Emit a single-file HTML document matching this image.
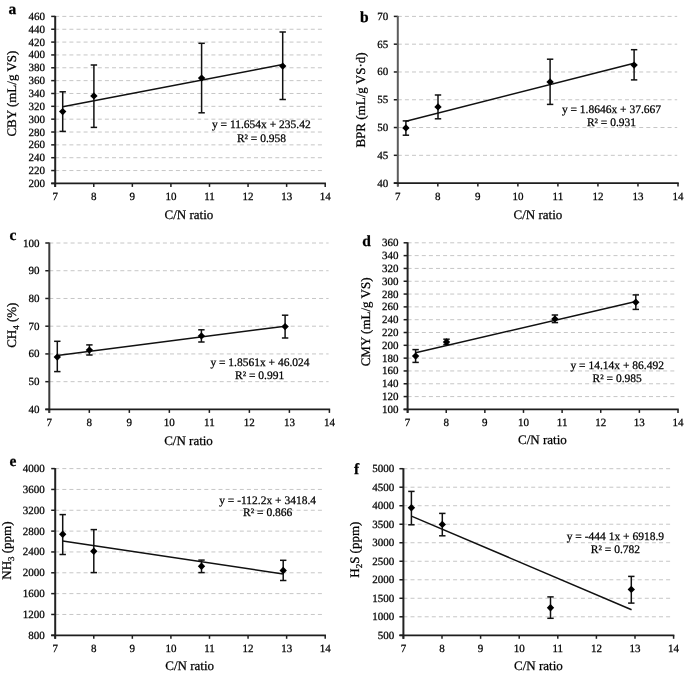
<!DOCTYPE html><html><head><meta charset="utf-8"><style>html,body{margin:0;padding:0;background:#fff;}svg{display:block;filter:blur(0.3px);}text{font-family:"Liberation Serif",serif;fill:#000;stroke:#000;stroke-width:0.25px;text-rendering:geometricPrecision;}</style></head><body>
<svg width="685" height="675" viewBox="0 0 685 675">
<rect x="0" y="0" width="685" height="675" fill="#fff"/>
<g><line x1="55.2" y1="170.55" x2="324.4" y2="170.55" stroke="#c6c6c6" stroke-width="1" stroke-dasharray="4 3.1"/><line x1="55.2" y1="157.71" x2="324.4" y2="157.71" stroke="#c6c6c6" stroke-width="1" stroke-dasharray="4 3.1"/><line x1="55.2" y1="144.86" x2="324.4" y2="144.86" stroke="#c6c6c6" stroke-width="1" stroke-dasharray="4 3.1"/><line x1="55.2" y1="132.02" x2="324.4" y2="132.02" stroke="#c6c6c6" stroke-width="1" stroke-dasharray="4 3.1"/><line x1="55.2" y1="119.17" x2="324.4" y2="119.17" stroke="#c6c6c6" stroke-width="1" stroke-dasharray="4 3.1"/><line x1="55.2" y1="106.32" x2="324.4" y2="106.32" stroke="#c6c6c6" stroke-width="1" stroke-dasharray="4 3.1"/><line x1="55.2" y1="93.48" x2="324.4" y2="93.48" stroke="#c6c6c6" stroke-width="1" stroke-dasharray="4 3.1"/><line x1="55.2" y1="80.63" x2="324.4" y2="80.63" stroke="#c6c6c6" stroke-width="1" stroke-dasharray="4 3.1"/><line x1="55.2" y1="67.78" x2="324.4" y2="67.78" stroke="#c6c6c6" stroke-width="1" stroke-dasharray="4 3.1"/><line x1="55.2" y1="54.94" x2="324.4" y2="54.94" stroke="#c6c6c6" stroke-width="1" stroke-dasharray="4 3.1"/><line x1="55.2" y1="42.09" x2="324.4" y2="42.09" stroke="#c6c6c6" stroke-width="1" stroke-dasharray="4 3.1"/><line x1="55.2" y1="29.25" x2="324.4" y2="29.25" stroke="#c6c6c6" stroke-width="1" stroke-dasharray="4 3.1"/><line x1="55.2" y1="16.4" x2="324.4" y2="16.4" stroke="#c6c6c6" stroke-width="1" stroke-dasharray="4 3.1"/><line x1="51.2" y1="183.4" x2="55.2" y2="183.4" stroke="#1e1e1e" stroke-width="1.5"/><text x="45" y="186.9" font-size="11" text-anchor="end">200</text><line x1="51.2" y1="170.55" x2="55.2" y2="170.55" stroke="#1e1e1e" stroke-width="1.5"/><text x="45" y="174.05" font-size="11" text-anchor="end">220</text><line x1="51.2" y1="157.71" x2="55.2" y2="157.71" stroke="#1e1e1e" stroke-width="1.5"/><text x="45" y="161.21" font-size="11" text-anchor="end">240</text><line x1="51.2" y1="144.86" x2="55.2" y2="144.86" stroke="#1e1e1e" stroke-width="1.5"/><text x="45" y="148.36" font-size="11" text-anchor="end">260</text><line x1="51.2" y1="132.02" x2="55.2" y2="132.02" stroke="#1e1e1e" stroke-width="1.5"/><text x="45" y="135.52" font-size="11" text-anchor="end">280</text><line x1="51.2" y1="119.17" x2="55.2" y2="119.17" stroke="#1e1e1e" stroke-width="1.5"/><text x="45" y="122.67" font-size="11" text-anchor="end">300</text><line x1="51.2" y1="106.32" x2="55.2" y2="106.32" stroke="#1e1e1e" stroke-width="1.5"/><text x="45" y="109.82" font-size="11" text-anchor="end">320</text><line x1="51.2" y1="93.48" x2="55.2" y2="93.48" stroke="#1e1e1e" stroke-width="1.5"/><text x="45" y="96.98" font-size="11" text-anchor="end">340</text><line x1="51.2" y1="80.63" x2="55.2" y2="80.63" stroke="#1e1e1e" stroke-width="1.5"/><text x="45" y="84.13" font-size="11" text-anchor="end">360</text><line x1="51.2" y1="67.78" x2="55.2" y2="67.78" stroke="#1e1e1e" stroke-width="1.5"/><text x="45" y="71.28" font-size="11" text-anchor="end">380</text><line x1="51.2" y1="54.94" x2="55.2" y2="54.94" stroke="#1e1e1e" stroke-width="1.5"/><text x="45" y="58.44" font-size="11" text-anchor="end">400</text><line x1="51.2" y1="42.09" x2="55.2" y2="42.09" stroke="#1e1e1e" stroke-width="1.5"/><text x="45" y="45.59" font-size="11" text-anchor="end">420</text><line x1="51.2" y1="29.25" x2="55.2" y2="29.25" stroke="#1e1e1e" stroke-width="1.5"/><text x="45" y="32.75" font-size="11" text-anchor="end">440</text><line x1="51.2" y1="16.4" x2="55.2" y2="16.4" stroke="#1e1e1e" stroke-width="1.5"/><text x="45" y="19.9" font-size="11" text-anchor="end">460</text><line x1="55.2" y1="183.4" x2="55.2" y2="186.9" stroke="#1e1e1e" stroke-width="1.5"/><text x="55.2" y="200" font-size="11" text-anchor="middle">7</text><line x1="93.77" y1="183.4" x2="93.77" y2="186.9" stroke="#1e1e1e" stroke-width="1.5"/><text x="93.77" y="200" font-size="11" text-anchor="middle">8</text><line x1="132.34" y1="183.4" x2="132.34" y2="186.9" stroke="#1e1e1e" stroke-width="1.5"/><text x="132.34" y="200" font-size="11" text-anchor="middle">9</text><line x1="170.91" y1="183.4" x2="170.91" y2="186.9" stroke="#1e1e1e" stroke-width="1.5"/><text x="170.91" y="200" font-size="11" text-anchor="middle">10</text><line x1="209.49" y1="183.4" x2="209.49" y2="186.9" stroke="#1e1e1e" stroke-width="1.5"/><text x="209.49" y="200" font-size="11" text-anchor="middle">11</text><line x1="248.06" y1="183.4" x2="248.06" y2="186.9" stroke="#1e1e1e" stroke-width="1.5"/><text x="248.06" y="200" font-size="11" text-anchor="middle">12</text><line x1="286.63" y1="183.4" x2="286.63" y2="186.9" stroke="#1e1e1e" stroke-width="1.5"/><text x="286.63" y="200" font-size="11" text-anchor="middle">13</text><line x1="325.2" y1="183.4" x2="325.2" y2="186.9" stroke="#1e1e1e" stroke-width="1.5"/><text x="325.2" y="200" font-size="11" text-anchor="middle">14</text><line x1="55.2" y1="15.9" x2="55.2" y2="186.9" stroke="#222" stroke-width="2"/><line x1="51.2" y1="183.4" x2="325.95" y2="183.4" stroke="#1e1e1e" stroke-width="1.7"/><line x1="62.7" y1="106.7" x2="282.7" y2="64.6" stroke="#111" stroke-width="1.5"/><line x1="62.7" y1="91.8" x2="62.7" y2="131.4" stroke="#111" stroke-width="1.5"/><line x1="59.5" y1="91.8" x2="65.9" y2="91.8" stroke="#111" stroke-width="1.5"/><line x1="59.5" y1="131.4" x2="65.9" y2="131.4" stroke="#111" stroke-width="1.5"/><path d="M62.7 107.9L66.4 111.6L62.7 115.3L59 111.6Z" fill="#000"/><line x1="93.9" y1="65" x2="93.9" y2="127.4" stroke="#111" stroke-width="1.5"/><line x1="90.7" y1="65" x2="97.1" y2="65" stroke="#111" stroke-width="1.5"/><line x1="90.7" y1="127.4" x2="97.1" y2="127.4" stroke="#111" stroke-width="1.5"/><path d="M93.9 92.2L97.6 95.9L93.9 99.6L90.2 95.9Z" fill="#000"/><line x1="201.6" y1="43.3" x2="201.6" y2="112.8" stroke="#111" stroke-width="1.5"/><line x1="198.4" y1="43.3" x2="204.8" y2="43.3" stroke="#111" stroke-width="1.5"/><line x1="198.4" y1="112.8" x2="204.8" y2="112.8" stroke="#111" stroke-width="1.5"/><path d="M201.6 74.4L205.3 78.1L201.6 81.8L197.9 78.1Z" fill="#000"/><line x1="282.7" y1="32" x2="282.7" y2="99.5" stroke="#111" stroke-width="1.5"/><line x1="279.5" y1="32" x2="285.9" y2="32" stroke="#111" stroke-width="1.5"/><line x1="279.5" y1="99.5" x2="285.9" y2="99.5" stroke="#111" stroke-width="1.5"/><path d="M282.7 62.4L286.4 66.1L282.7 69.8L279 66.1Z" fill="#000"/><text x="261.3" y="128.4" font-size="11.5" text-anchor="middle">y = 11.654x + 235.42</text><text x="261.5" y="141.5" font-size="11.5" text-anchor="middle">R² = 0.958</text><text x="8.6" y="13.5" font-size="15.5" font-weight="bold">a</text><text transform="translate(16.2,93.6) rotate(-90)" x="0" y="0" font-size="13" text-anchor="middle">CBY (mL/g VS)</text><text x="188.9" y="219.2" font-size="13" text-anchor="middle">C/N ratio</text></g>
<g><line x1="397.8" y1="155.32" x2="677.2" y2="155.32" stroke="#c6c6c6" stroke-width="1" stroke-dasharray="4 3.1"/><line x1="397.8" y1="127.53" x2="677.2" y2="127.53" stroke="#c6c6c6" stroke-width="1" stroke-dasharray="4 3.1"/><line x1="397.8" y1="99.75" x2="677.2" y2="99.75" stroke="#c6c6c6" stroke-width="1" stroke-dasharray="4 3.1"/><line x1="397.8" y1="71.97" x2="677.2" y2="71.97" stroke="#c6c6c6" stroke-width="1" stroke-dasharray="4 3.1"/><line x1="397.8" y1="44.18" x2="677.2" y2="44.18" stroke="#c6c6c6" stroke-width="1" stroke-dasharray="4 3.1"/><line x1="397.8" y1="16.4" x2="677.2" y2="16.4" stroke="#c6c6c6" stroke-width="1" stroke-dasharray="4 3.1"/><line x1="393.8" y1="183.1" x2="397.8" y2="183.1" stroke="#1e1e1e" stroke-width="1.5"/><text x="388.3" y="186.6" font-size="11" text-anchor="end">40</text><line x1="393.8" y1="155.32" x2="397.8" y2="155.32" stroke="#1e1e1e" stroke-width="1.5"/><text x="388.3" y="158.82" font-size="11" text-anchor="end">45</text><line x1="393.8" y1="127.53" x2="397.8" y2="127.53" stroke="#1e1e1e" stroke-width="1.5"/><text x="388.3" y="131.03" font-size="11" text-anchor="end">50</text><line x1="393.8" y1="99.75" x2="397.8" y2="99.75" stroke="#1e1e1e" stroke-width="1.5"/><text x="388.3" y="103.25" font-size="11" text-anchor="end">55</text><line x1="393.8" y1="71.97" x2="397.8" y2="71.97" stroke="#1e1e1e" stroke-width="1.5"/><text x="388.3" y="75.47" font-size="11" text-anchor="end">60</text><line x1="393.8" y1="44.18" x2="397.8" y2="44.18" stroke="#1e1e1e" stroke-width="1.5"/><text x="388.3" y="47.68" font-size="11" text-anchor="end">65</text><line x1="393.8" y1="16.4" x2="397.8" y2="16.4" stroke="#1e1e1e" stroke-width="1.5"/><text x="388.3" y="19.9" font-size="11" text-anchor="end">70</text><line x1="397.8" y1="183.1" x2="397.8" y2="186.6" stroke="#1e1e1e" stroke-width="1.5"/><text x="397.8" y="199.7" font-size="11" text-anchor="middle">7</text><line x1="437.83" y1="183.1" x2="437.83" y2="186.6" stroke="#1e1e1e" stroke-width="1.5"/><text x="437.83" y="199.7" font-size="11" text-anchor="middle">8</text><line x1="477.86" y1="183.1" x2="477.86" y2="186.6" stroke="#1e1e1e" stroke-width="1.5"/><text x="477.86" y="199.7" font-size="11" text-anchor="middle">9</text><line x1="517.89" y1="183.1" x2="517.89" y2="186.6" stroke="#1e1e1e" stroke-width="1.5"/><text x="517.89" y="199.7" font-size="11" text-anchor="middle">10</text><line x1="557.91" y1="183.1" x2="557.91" y2="186.6" stroke="#1e1e1e" stroke-width="1.5"/><text x="557.91" y="199.7" font-size="11" text-anchor="middle">11</text><line x1="597.94" y1="183.1" x2="597.94" y2="186.6" stroke="#1e1e1e" stroke-width="1.5"/><text x="597.94" y="199.7" font-size="11" text-anchor="middle">12</text><line x1="637.97" y1="183.1" x2="637.97" y2="186.6" stroke="#1e1e1e" stroke-width="1.5"/><text x="637.97" y="199.7" font-size="11" text-anchor="middle">13</text><line x1="678" y1="183.1" x2="678" y2="186.6" stroke="#1e1e1e" stroke-width="1.5"/><text x="678" y="199.7" font-size="11" text-anchor="middle">14</text><line x1="397.8" y1="15.9" x2="397.8" y2="186.6" stroke="#5c5c5c" stroke-width="2"/><line x1="393.8" y1="183.1" x2="678.75" y2="183.1" stroke="#1e1e1e" stroke-width="1.7"/><line x1="405.9" y1="121.3" x2="634.1" y2="63.2" stroke="#111" stroke-width="1.5"/><line x1="405.9" y1="120.9" x2="405.9" y2="135.2" stroke="#111" stroke-width="1.5"/><line x1="402.7" y1="120.9" x2="409.1" y2="120.9" stroke="#111" stroke-width="1.5"/><line x1="402.7" y1="135.2" x2="409.1" y2="135.2" stroke="#111" stroke-width="1.5"/><path d="M405.9 124.2L409.6 127.9L405.9 131.6L402.2 127.9Z" fill="#000"/><line x1="438" y1="95" x2="438" y2="118.8" stroke="#111" stroke-width="1.5"/><line x1="434.8" y1="95" x2="441.2" y2="95" stroke="#111" stroke-width="1.5"/><line x1="434.8" y1="118.8" x2="441.2" y2="118.8" stroke="#111" stroke-width="1.5"/><path d="M438 103.2L441.7 106.9L438 110.6L434.3 106.9Z" fill="#000"/><line x1="550.1" y1="59.2" x2="550.1" y2="104.4" stroke="#111" stroke-width="1.5"/><line x1="546.9" y1="59.2" x2="553.3" y2="59.2" stroke="#111" stroke-width="1.5"/><line x1="546.9" y1="104.4" x2="553.3" y2="104.4" stroke="#111" stroke-width="1.5"/><path d="M550.1 78.2L553.8 81.9L550.1 85.6L546.4 81.9Z" fill="#000"/><line x1="634.1" y1="49.7" x2="634.1" y2="79.9" stroke="#111" stroke-width="1.5"/><line x1="630.9" y1="49.7" x2="637.3" y2="49.7" stroke="#111" stroke-width="1.5"/><line x1="630.9" y1="79.9" x2="637.3" y2="79.9" stroke="#111" stroke-width="1.5"/><path d="M634.1 61.4L637.8 65.1L634.1 68.8L630.4 65.1Z" fill="#000"/><text x="611.5" y="113.4" font-size="11.5" text-anchor="middle">y = 1.8646x + 37.667</text><text x="611.5" y="126" font-size="11.5" text-anchor="middle">R² = 0.931</text><text x="360" y="22.3" font-size="15.5" font-weight="bold">b</text><text transform="translate(364.5,100) rotate(-90)" x="0" y="0" font-size="13" text-anchor="middle">BPR (mL/g VS·d)</text><text x="537.95" y="218.9" font-size="13" text-anchor="middle">C/N ratio</text></g>
<g><line x1="49.3" y1="381.67" x2="328.6" y2="381.67" stroke="#c6c6c6" stroke-width="1" stroke-dasharray="4 3.1"/><line x1="49.3" y1="353.93" x2="328.6" y2="353.93" stroke="#c6c6c6" stroke-width="1" stroke-dasharray="4 3.1"/><line x1="49.3" y1="326.2" x2="328.6" y2="326.2" stroke="#c6c6c6" stroke-width="1" stroke-dasharray="4 3.1"/><line x1="49.3" y1="298.47" x2="328.6" y2="298.47" stroke="#c6c6c6" stroke-width="1" stroke-dasharray="4 3.1"/><line x1="49.3" y1="270.73" x2="328.6" y2="270.73" stroke="#c6c6c6" stroke-width="1" stroke-dasharray="4 3.1"/><line x1="49.3" y1="243" x2="328.6" y2="243" stroke="#c6c6c6" stroke-width="1" stroke-dasharray="4 3.1"/><line x1="45.3" y1="409.4" x2="49.3" y2="409.4" stroke="#1e1e1e" stroke-width="1.5"/><text x="39.6" y="412.9" font-size="11" text-anchor="end">40</text><line x1="45.3" y1="381.67" x2="49.3" y2="381.67" stroke="#1e1e1e" stroke-width="1.5"/><text x="39.6" y="385.17" font-size="11" text-anchor="end">50</text><line x1="45.3" y1="353.93" x2="49.3" y2="353.93" stroke="#1e1e1e" stroke-width="1.5"/><text x="39.6" y="357.43" font-size="11" text-anchor="end">60</text><line x1="45.3" y1="326.2" x2="49.3" y2="326.2" stroke="#1e1e1e" stroke-width="1.5"/><text x="39.6" y="329.7" font-size="11" text-anchor="end">70</text><line x1="45.3" y1="298.47" x2="49.3" y2="298.47" stroke="#1e1e1e" stroke-width="1.5"/><text x="39.6" y="301.97" font-size="11" text-anchor="end">80</text><line x1="45.3" y1="270.73" x2="49.3" y2="270.73" stroke="#1e1e1e" stroke-width="1.5"/><text x="39.6" y="274.23" font-size="11" text-anchor="end">90</text><line x1="45.3" y1="243" x2="49.3" y2="243" stroke="#1e1e1e" stroke-width="1.5"/><text x="39.6" y="246.5" font-size="11" text-anchor="end">100</text><line x1="49.3" y1="409.4" x2="49.3" y2="412.9" stroke="#1e1e1e" stroke-width="1.5"/><text x="49.3" y="426" font-size="11" text-anchor="middle">7</text><line x1="89.31" y1="409.4" x2="89.31" y2="412.9" stroke="#1e1e1e" stroke-width="1.5"/><text x="89.31" y="426" font-size="11" text-anchor="middle">8</text><line x1="129.33" y1="409.4" x2="129.33" y2="412.9" stroke="#1e1e1e" stroke-width="1.5"/><text x="129.33" y="426" font-size="11" text-anchor="middle">9</text><line x1="169.34" y1="409.4" x2="169.34" y2="412.9" stroke="#1e1e1e" stroke-width="1.5"/><text x="169.34" y="426" font-size="11" text-anchor="middle">10</text><line x1="209.36" y1="409.4" x2="209.36" y2="412.9" stroke="#1e1e1e" stroke-width="1.5"/><text x="209.36" y="426" font-size="11" text-anchor="middle">11</text><line x1="249.37" y1="409.4" x2="249.37" y2="412.9" stroke="#1e1e1e" stroke-width="1.5"/><text x="249.37" y="426" font-size="11" text-anchor="middle">12</text><line x1="289.39" y1="409.4" x2="289.39" y2="412.9" stroke="#1e1e1e" stroke-width="1.5"/><text x="289.39" y="426" font-size="11" text-anchor="middle">13</text><line x1="329.4" y1="409.4" x2="329.4" y2="412.9" stroke="#1e1e1e" stroke-width="1.5"/><text x="329.4" y="426" font-size="11" text-anchor="middle">14</text><line x1="49.3" y1="242.5" x2="49.3" y2="412.9" stroke="#3a3a3a" stroke-width="2"/><line x1="45.3" y1="409.4" x2="330.15" y2="409.4" stroke="#1e1e1e" stroke-width="1.7"/><line x1="57.3" y1="355.6" x2="285.1" y2="326.2" stroke="#111" stroke-width="1.5"/><line x1="57.3" y1="341.3" x2="57.3" y2="371.6" stroke="#111" stroke-width="1.5"/><line x1="54.1" y1="341.3" x2="60.5" y2="341.3" stroke="#111" stroke-width="1.5"/><line x1="54.1" y1="371.6" x2="60.5" y2="371.6" stroke="#111" stroke-width="1.5"/><path d="M57.3 353.4L61 357.1L57.3 360.8L53.6 357.1Z" fill="#000"/><line x1="89.4" y1="344.9" x2="89.4" y2="355" stroke="#111" stroke-width="1.5"/><line x1="86.2" y1="344.9" x2="92.6" y2="344.9" stroke="#111" stroke-width="1.5"/><line x1="86.2" y1="355" x2="92.6" y2="355" stroke="#111" stroke-width="1.5"/><path d="M89.4 346.4L93.1 350.1L89.4 353.8L85.7 350.1Z" fill="#000"/><line x1="201.4" y1="329.8" x2="201.4" y2="342" stroke="#111" stroke-width="1.5"/><line x1="198.2" y1="329.8" x2="204.6" y2="329.8" stroke="#111" stroke-width="1.5"/><line x1="198.2" y1="342" x2="204.6" y2="342" stroke="#111" stroke-width="1.5"/><path d="M201.4 332.2L205.1 335.9L201.4 339.6L197.7 335.9Z" fill="#000"/><line x1="285.1" y1="315.2" x2="285.1" y2="338" stroke="#111" stroke-width="1.5"/><line x1="281.9" y1="315.2" x2="288.3" y2="315.2" stroke="#111" stroke-width="1.5"/><line x1="281.9" y1="338" x2="288.3" y2="338" stroke="#111" stroke-width="1.5"/><path d="M285.1 322.9L288.8 326.6L285.1 330.3L281.4 326.6Z" fill="#000"/><text x="260" y="366.3" font-size="11.5" text-anchor="middle">y = 1.8561x + 46.024</text><text x="259.6" y="378.6" font-size="11.5" text-anchor="middle">R² = 0.991</text><text x="9.5" y="239.6" font-size="15.5" font-weight="bold">c</text><text transform="translate(15.9,325.2) rotate(-90)" x="0" y="0" font-size="13" text-anchor="middle">CH<tspan font-size="9" dy="3">4</tspan><tspan dy="-3"> (%)</tspan></text><text x="188.5" y="444.9" font-size="13" text-anchor="middle">C/N ratio</text></g>
<g><line x1="407.6" y1="396.58" x2="677.2" y2="396.58" stroke="#c6c6c6" stroke-width="1" stroke-dasharray="4 3.1"/><line x1="407.6" y1="383.77" x2="677.2" y2="383.77" stroke="#c6c6c6" stroke-width="1" stroke-dasharray="4 3.1"/><line x1="407.6" y1="370.95" x2="677.2" y2="370.95" stroke="#c6c6c6" stroke-width="1" stroke-dasharray="4 3.1"/><line x1="407.6" y1="358.14" x2="677.2" y2="358.14" stroke="#c6c6c6" stroke-width="1" stroke-dasharray="4 3.1"/><line x1="407.6" y1="345.32" x2="677.2" y2="345.32" stroke="#c6c6c6" stroke-width="1" stroke-dasharray="4 3.1"/><line x1="407.6" y1="332.51" x2="677.2" y2="332.51" stroke="#c6c6c6" stroke-width="1" stroke-dasharray="4 3.1"/><line x1="407.6" y1="319.69" x2="677.2" y2="319.69" stroke="#c6c6c6" stroke-width="1" stroke-dasharray="4 3.1"/><line x1="407.6" y1="306.88" x2="677.2" y2="306.88" stroke="#c6c6c6" stroke-width="1" stroke-dasharray="4 3.1"/><line x1="407.6" y1="294.06" x2="677.2" y2="294.06" stroke="#c6c6c6" stroke-width="1" stroke-dasharray="4 3.1"/><line x1="407.6" y1="281.25" x2="677.2" y2="281.25" stroke="#c6c6c6" stroke-width="1" stroke-dasharray="4 3.1"/><line x1="407.6" y1="268.43" x2="677.2" y2="268.43" stroke="#c6c6c6" stroke-width="1" stroke-dasharray="4 3.1"/><line x1="407.6" y1="255.62" x2="677.2" y2="255.62" stroke="#c6c6c6" stroke-width="1" stroke-dasharray="4 3.1"/><line x1="407.6" y1="242.8" x2="677.2" y2="242.8" stroke="#c6c6c6" stroke-width="1" stroke-dasharray="4 3.1"/><line x1="403.6" y1="409.4" x2="407.6" y2="409.4" stroke="#1e1e1e" stroke-width="1.5"/><text x="398.6" y="412.9" font-size="11" text-anchor="end">100</text><line x1="403.6" y1="396.58" x2="407.6" y2="396.58" stroke="#1e1e1e" stroke-width="1.5"/><text x="398.6" y="400.08" font-size="11" text-anchor="end">120</text><line x1="403.6" y1="383.77" x2="407.6" y2="383.77" stroke="#1e1e1e" stroke-width="1.5"/><text x="398.6" y="387.27" font-size="11" text-anchor="end">140</text><line x1="403.6" y1="370.95" x2="407.6" y2="370.95" stroke="#1e1e1e" stroke-width="1.5"/><text x="398.6" y="374.45" font-size="11" text-anchor="end">160</text><line x1="403.6" y1="358.14" x2="407.6" y2="358.14" stroke="#1e1e1e" stroke-width="1.5"/><text x="398.6" y="361.64" font-size="11" text-anchor="end">180</text><line x1="403.6" y1="345.32" x2="407.6" y2="345.32" stroke="#1e1e1e" stroke-width="1.5"/><text x="398.6" y="348.82" font-size="11" text-anchor="end">200</text><line x1="403.6" y1="332.51" x2="407.6" y2="332.51" stroke="#1e1e1e" stroke-width="1.5"/><text x="398.6" y="336.01" font-size="11" text-anchor="end">220</text><line x1="403.6" y1="319.69" x2="407.6" y2="319.69" stroke="#1e1e1e" stroke-width="1.5"/><text x="398.6" y="323.19" font-size="11" text-anchor="end">240</text><line x1="403.6" y1="306.88" x2="407.6" y2="306.88" stroke="#1e1e1e" stroke-width="1.5"/><text x="398.6" y="310.38" font-size="11" text-anchor="end">260</text><line x1="403.6" y1="294.06" x2="407.6" y2="294.06" stroke="#1e1e1e" stroke-width="1.5"/><text x="398.6" y="297.56" font-size="11" text-anchor="end">280</text><line x1="403.6" y1="281.25" x2="407.6" y2="281.25" stroke="#1e1e1e" stroke-width="1.5"/><text x="398.6" y="284.75" font-size="11" text-anchor="end">300</text><line x1="403.6" y1="268.43" x2="407.6" y2="268.43" stroke="#1e1e1e" stroke-width="1.5"/><text x="398.6" y="271.93" font-size="11" text-anchor="end">320</text><line x1="403.6" y1="255.62" x2="407.6" y2="255.62" stroke="#1e1e1e" stroke-width="1.5"/><text x="398.6" y="259.12" font-size="11" text-anchor="end">340</text><line x1="403.6" y1="242.8" x2="407.6" y2="242.8" stroke="#1e1e1e" stroke-width="1.5"/><text x="398.6" y="246.3" font-size="11" text-anchor="end">360</text><line x1="407.6" y1="409.4" x2="407.6" y2="412.9" stroke="#1e1e1e" stroke-width="1.5"/><text x="407.6" y="426" font-size="11" text-anchor="middle">7</text><line x1="446.23" y1="409.4" x2="446.23" y2="412.9" stroke="#1e1e1e" stroke-width="1.5"/><text x="446.23" y="426" font-size="11" text-anchor="middle">8</text><line x1="484.86" y1="409.4" x2="484.86" y2="412.9" stroke="#1e1e1e" stroke-width="1.5"/><text x="484.86" y="426" font-size="11" text-anchor="middle">9</text><line x1="523.49" y1="409.4" x2="523.49" y2="412.9" stroke="#1e1e1e" stroke-width="1.5"/><text x="523.49" y="426" font-size="11" text-anchor="middle">10</text><line x1="562.11" y1="409.4" x2="562.11" y2="412.9" stroke="#1e1e1e" stroke-width="1.5"/><text x="562.11" y="426" font-size="11" text-anchor="middle">11</text><line x1="600.74" y1="409.4" x2="600.74" y2="412.9" stroke="#1e1e1e" stroke-width="1.5"/><text x="600.74" y="426" font-size="11" text-anchor="middle">12</text><line x1="639.37" y1="409.4" x2="639.37" y2="412.9" stroke="#1e1e1e" stroke-width="1.5"/><text x="639.37" y="426" font-size="11" text-anchor="middle">13</text><line x1="678" y1="409.4" x2="678" y2="412.9" stroke="#1e1e1e" stroke-width="1.5"/><text x="678" y="426" font-size="11" text-anchor="middle">14</text><line x1="407.6" y1="242.3" x2="407.6" y2="412.9" stroke="#222" stroke-width="2"/><line x1="403.6" y1="409.4" x2="678.75" y2="409.4" stroke="#1e1e1e" stroke-width="1.7"/><line x1="415.6" y1="352.7" x2="635.8" y2="301.5" stroke="#111" stroke-width="1.5"/><line x1="415.6" y1="349.6" x2="415.6" y2="362.4" stroke="#111" stroke-width="1.5"/><line x1="412.4" y1="349.6" x2="418.8" y2="349.6" stroke="#111" stroke-width="1.5"/><line x1="412.4" y1="362.4" x2="418.8" y2="362.4" stroke="#111" stroke-width="1.5"/><path d="M415.6 352.4L419.3 356.1L415.6 359.8L411.9 356.1Z" fill="#000"/><line x1="446.5" y1="339.2" x2="446.5" y2="344.5" stroke="#111" stroke-width="1.5"/><line x1="443.3" y1="339.2" x2="449.7" y2="339.2" stroke="#111" stroke-width="1.5"/><line x1="443.3" y1="344.5" x2="449.7" y2="344.5" stroke="#111" stroke-width="1.5"/><path d="M446.5 338.3L450.2 342L446.5 345.7L442.8 342Z" fill="#000"/><line x1="554.9" y1="315" x2="554.9" y2="322.6" stroke="#111" stroke-width="1.5"/><line x1="551.7" y1="315" x2="558.1" y2="315" stroke="#111" stroke-width="1.5"/><line x1="551.7" y1="322.6" x2="558.1" y2="322.6" stroke="#111" stroke-width="1.5"/><path d="M554.9 315.2L558.6 318.9L554.9 322.6L551.2 318.9Z" fill="#000"/><line x1="635.8" y1="294.9" x2="635.8" y2="309.4" stroke="#111" stroke-width="1.5"/><line x1="632.6" y1="294.9" x2="639" y2="294.9" stroke="#111" stroke-width="1.5"/><line x1="632.6" y1="309.4" x2="639" y2="309.4" stroke="#111" stroke-width="1.5"/><path d="M635.8 298.5L639.5 302.2L635.8 305.9L632.1 302.2Z" fill="#000"/><text x="617.2" y="368.7" font-size="11.5" text-anchor="middle">y = 14.14x + 86.492</text><text x="617.2" y="381.5" font-size="11.5" text-anchor="middle">R² = 0.985</text><text x="362.2" y="246.4" font-size="15.5" font-weight="bold">d</text><text transform="translate(369.5,321.9) rotate(-90)" x="0" y="0" font-size="13" text-anchor="middle">CMY (mL/g VS)</text><text x="542.45" y="443.9" font-size="13" text-anchor="middle">C/N ratio</text></g>
<g><line x1="55.2" y1="614.46" x2="324.4" y2="614.46" stroke="#c6c6c6" stroke-width="1" stroke-dasharray="4 3.1"/><line x1="55.2" y1="593.62" x2="324.4" y2="593.62" stroke="#c6c6c6" stroke-width="1" stroke-dasharray="4 3.1"/><line x1="55.2" y1="572.79" x2="324.4" y2="572.79" stroke="#c6c6c6" stroke-width="1" stroke-dasharray="4 3.1"/><line x1="55.2" y1="551.95" x2="324.4" y2="551.95" stroke="#c6c6c6" stroke-width="1" stroke-dasharray="4 3.1"/><line x1="55.2" y1="531.11" x2="324.4" y2="531.11" stroke="#c6c6c6" stroke-width="1" stroke-dasharray="4 3.1"/><line x1="55.2" y1="510.27" x2="324.4" y2="510.27" stroke="#c6c6c6" stroke-width="1" stroke-dasharray="4 3.1"/><line x1="55.2" y1="489.44" x2="324.4" y2="489.44" stroke="#c6c6c6" stroke-width="1" stroke-dasharray="4 3.1"/><line x1="55.2" y1="468.6" x2="324.4" y2="468.6" stroke="#c6c6c6" stroke-width="1" stroke-dasharray="4 3.1"/><line x1="51.2" y1="635.3" x2="55.2" y2="635.3" stroke="#1e1e1e" stroke-width="1.5"/><text x="44.8" y="638.8" font-size="11" text-anchor="end">800</text><line x1="51.2" y1="614.46" x2="55.2" y2="614.46" stroke="#1e1e1e" stroke-width="1.5"/><text x="44.8" y="617.96" font-size="11" text-anchor="end">1200</text><line x1="51.2" y1="593.62" x2="55.2" y2="593.62" stroke="#1e1e1e" stroke-width="1.5"/><text x="44.8" y="597.12" font-size="11" text-anchor="end">1600</text><line x1="51.2" y1="572.79" x2="55.2" y2="572.79" stroke="#1e1e1e" stroke-width="1.5"/><text x="44.8" y="576.29" font-size="11" text-anchor="end">2000</text><line x1="51.2" y1="551.95" x2="55.2" y2="551.95" stroke="#1e1e1e" stroke-width="1.5"/><text x="44.8" y="555.45" font-size="11" text-anchor="end">2400</text><line x1="51.2" y1="531.11" x2="55.2" y2="531.11" stroke="#1e1e1e" stroke-width="1.5"/><text x="44.8" y="534.61" font-size="11" text-anchor="end">2800</text><line x1="51.2" y1="510.27" x2="55.2" y2="510.27" stroke="#1e1e1e" stroke-width="1.5"/><text x="44.8" y="513.77" font-size="11" text-anchor="end">3200</text><line x1="51.2" y1="489.44" x2="55.2" y2="489.44" stroke="#1e1e1e" stroke-width="1.5"/><text x="44.8" y="492.94" font-size="11" text-anchor="end">3600</text><line x1="51.2" y1="468.6" x2="55.2" y2="468.6" stroke="#1e1e1e" stroke-width="1.5"/><text x="44.8" y="472.1" font-size="11" text-anchor="end">4000</text><line x1="55.2" y1="635.3" x2="55.2" y2="638.8" stroke="#1e1e1e" stroke-width="1.5"/><text x="55.2" y="651.9" font-size="11" text-anchor="middle">7</text><line x1="93.77" y1="635.3" x2="93.77" y2="638.8" stroke="#1e1e1e" stroke-width="1.5"/><text x="93.77" y="651.9" font-size="11" text-anchor="middle">8</text><line x1="132.34" y1="635.3" x2="132.34" y2="638.8" stroke="#1e1e1e" stroke-width="1.5"/><text x="132.34" y="651.9" font-size="11" text-anchor="middle">9</text><line x1="170.91" y1="635.3" x2="170.91" y2="638.8" stroke="#1e1e1e" stroke-width="1.5"/><text x="170.91" y="651.9" font-size="11" text-anchor="middle">10</text><line x1="209.49" y1="635.3" x2="209.49" y2="638.8" stroke="#1e1e1e" stroke-width="1.5"/><text x="209.49" y="651.9" font-size="11" text-anchor="middle">11</text><line x1="248.06" y1="635.3" x2="248.06" y2="638.8" stroke="#1e1e1e" stroke-width="1.5"/><text x="248.06" y="651.9" font-size="11" text-anchor="middle">12</text><line x1="286.63" y1="635.3" x2="286.63" y2="638.8" stroke="#1e1e1e" stroke-width="1.5"/><text x="286.63" y="651.9" font-size="11" text-anchor="middle">13</text><line x1="325.2" y1="635.3" x2="325.2" y2="638.8" stroke="#1e1e1e" stroke-width="1.5"/><text x="325.2" y="651.9" font-size="11" text-anchor="middle">14</text><line x1="55.2" y1="468.1" x2="55.2" y2="638.8" stroke="#222" stroke-width="2"/><line x1="51.2" y1="635.3" x2="325.95" y2="635.3" stroke="#1e1e1e" stroke-width="1.7"/><line x1="62.7" y1="541.1" x2="283.2" y2="574" stroke="#111" stroke-width="1.5"/><line x1="62.7" y1="514.6" x2="62.7" y2="554.5" stroke="#111" stroke-width="1.5"/><line x1="59.5" y1="514.6" x2="65.9" y2="514.6" stroke="#111" stroke-width="1.5"/><line x1="59.5" y1="554.5" x2="65.9" y2="554.5" stroke="#111" stroke-width="1.5"/><path d="M62.7 530.6L66.4 534.3L62.7 538L59 534.3Z" fill="#000"/><line x1="93.8" y1="529.6" x2="93.8" y2="572.6" stroke="#111" stroke-width="1.5"/><line x1="90.6" y1="529.6" x2="97" y2="529.6" stroke="#111" stroke-width="1.5"/><line x1="90.6" y1="572.6" x2="97" y2="572.6" stroke="#111" stroke-width="1.5"/><path d="M93.8 547.6L97.5 551.3L93.8 555L90.1 551.3Z" fill="#000"/><line x1="201.5" y1="560.1" x2="201.5" y2="572.6" stroke="#111" stroke-width="1.5"/><line x1="198.3" y1="560.1" x2="204.7" y2="560.1" stroke="#111" stroke-width="1.5"/><line x1="198.3" y1="572.6" x2="204.7" y2="572.6" stroke="#111" stroke-width="1.5"/><path d="M201.5 562.5L205.2 566.2L201.5 569.9L197.8 566.2Z" fill="#000"/><line x1="283.2" y1="560.3" x2="283.2" y2="580.5" stroke="#111" stroke-width="1.5"/><line x1="280" y1="560.3" x2="286.4" y2="560.3" stroke="#111" stroke-width="1.5"/><line x1="280" y1="580.5" x2="286.4" y2="580.5" stroke="#111" stroke-width="1.5"/><path d="M283.2 566.8L286.9 570.5L283.2 574.2L279.5 570.5Z" fill="#000"/><text x="267.6" y="503.5" font-size="11.5" text-anchor="middle">y = -112.2x + 3418.4</text><text x="267.7" y="516.4" font-size="11.5" text-anchor="middle">R² = 0.866</text><text x="9.5" y="466.1" font-size="15.5" font-weight="bold">e</text><text transform="translate(11,550.6) rotate(-90)" x="0" y="0" font-size="13" text-anchor="middle">NH<tspan font-size="9" dy="3">3</tspan><tspan dy="-3"> (ppm)</tspan></text><text x="189.65" y="670" font-size="13" text-anchor="middle">C/N ratio</text></g>
<g><line x1="403.4" y1="616.79" x2="672.8" y2="616.79" stroke="#c6c6c6" stroke-width="1" stroke-dasharray="4 3.1"/><line x1="403.4" y1="598.28" x2="672.8" y2="598.28" stroke="#c6c6c6" stroke-width="1" stroke-dasharray="4 3.1"/><line x1="403.4" y1="579.77" x2="672.8" y2="579.77" stroke="#c6c6c6" stroke-width="1" stroke-dasharray="4 3.1"/><line x1="403.4" y1="561.26" x2="672.8" y2="561.26" stroke="#c6c6c6" stroke-width="1" stroke-dasharray="4 3.1"/><line x1="403.4" y1="542.74" x2="672.8" y2="542.74" stroke="#c6c6c6" stroke-width="1" stroke-dasharray="4 3.1"/><line x1="403.4" y1="524.23" x2="672.8" y2="524.23" stroke="#c6c6c6" stroke-width="1" stroke-dasharray="4 3.1"/><line x1="403.4" y1="505.72" x2="672.8" y2="505.72" stroke="#c6c6c6" stroke-width="1" stroke-dasharray="4 3.1"/><line x1="403.4" y1="487.21" x2="672.8" y2="487.21" stroke="#c6c6c6" stroke-width="1" stroke-dasharray="4 3.1"/><line x1="403.4" y1="468.7" x2="672.8" y2="468.7" stroke="#c6c6c6" stroke-width="1" stroke-dasharray="4 3.1"/><line x1="399.4" y1="635.3" x2="403.4" y2="635.3" stroke="#1e1e1e" stroke-width="1.5"/><text x="394.2" y="638.8" font-size="11" text-anchor="end">500</text><line x1="399.4" y1="616.79" x2="403.4" y2="616.79" stroke="#1e1e1e" stroke-width="1.5"/><text x="394.2" y="620.29" font-size="11" text-anchor="end">1000</text><line x1="399.4" y1="598.28" x2="403.4" y2="598.28" stroke="#1e1e1e" stroke-width="1.5"/><text x="394.2" y="601.78" font-size="11" text-anchor="end">1500</text><line x1="399.4" y1="579.77" x2="403.4" y2="579.77" stroke="#1e1e1e" stroke-width="1.5"/><text x="394.2" y="583.27" font-size="11" text-anchor="end">2000</text><line x1="399.4" y1="561.26" x2="403.4" y2="561.26" stroke="#1e1e1e" stroke-width="1.5"/><text x="394.2" y="564.76" font-size="11" text-anchor="end">2500</text><line x1="399.4" y1="542.74" x2="403.4" y2="542.74" stroke="#1e1e1e" stroke-width="1.5"/><text x="394.2" y="546.24" font-size="11" text-anchor="end">3000</text><line x1="399.4" y1="524.23" x2="403.4" y2="524.23" stroke="#1e1e1e" stroke-width="1.5"/><text x="394.2" y="527.73" font-size="11" text-anchor="end">3500</text><line x1="399.4" y1="505.72" x2="403.4" y2="505.72" stroke="#1e1e1e" stroke-width="1.5"/><text x="394.2" y="509.22" font-size="11" text-anchor="end">4000</text><line x1="399.4" y1="487.21" x2="403.4" y2="487.21" stroke="#1e1e1e" stroke-width="1.5"/><text x="394.2" y="490.71" font-size="11" text-anchor="end">4500</text><line x1="399.4" y1="468.7" x2="403.4" y2="468.7" stroke="#1e1e1e" stroke-width="1.5"/><text x="394.2" y="472.2" font-size="11" text-anchor="end">5000</text><line x1="403.4" y1="635.3" x2="403.4" y2="638.8" stroke="#1e1e1e" stroke-width="1.5"/><text x="403.4" y="651.9" font-size="11" text-anchor="middle">7</text><line x1="442" y1="635.3" x2="442" y2="638.8" stroke="#1e1e1e" stroke-width="1.5"/><text x="442" y="651.9" font-size="11" text-anchor="middle">8</text><line x1="480.6" y1="635.3" x2="480.6" y2="638.8" stroke="#1e1e1e" stroke-width="1.5"/><text x="480.6" y="651.9" font-size="11" text-anchor="middle">9</text><line x1="519.2" y1="635.3" x2="519.2" y2="638.8" stroke="#1e1e1e" stroke-width="1.5"/><text x="519.2" y="651.9" font-size="11" text-anchor="middle">10</text><line x1="557.8" y1="635.3" x2="557.8" y2="638.8" stroke="#1e1e1e" stroke-width="1.5"/><text x="557.8" y="651.9" font-size="11" text-anchor="middle">11</text><line x1="596.4" y1="635.3" x2="596.4" y2="638.8" stroke="#1e1e1e" stroke-width="1.5"/><text x="596.4" y="651.9" font-size="11" text-anchor="middle">12</text><line x1="635" y1="635.3" x2="635" y2="638.8" stroke="#1e1e1e" stroke-width="1.5"/><text x="635" y="651.9" font-size="11" text-anchor="middle">13</text><line x1="673.6" y1="635.3" x2="673.6" y2="638.8" stroke="#1e1e1e" stroke-width="1.5"/><text x="673.6" y="651.9" font-size="11" text-anchor="middle">14</text><line x1="403.4" y1="468.2" x2="403.4" y2="638.8" stroke="#222" stroke-width="2"/><line x1="399.4" y1="635.3" x2="674.35" y2="635.3" stroke="#1e1e1e" stroke-width="1.7"/><line x1="411.4" y1="516.1" x2="631.6" y2="609.7" stroke="#111" stroke-width="1.5"/><line x1="411.4" y1="491.4" x2="411.4" y2="524.8" stroke="#111" stroke-width="1.5"/><line x1="408.2" y1="491.4" x2="414.6" y2="491.4" stroke="#111" stroke-width="1.5"/><line x1="408.2" y1="524.8" x2="414.6" y2="524.8" stroke="#111" stroke-width="1.5"/><path d="M411.4 504.1L415.1 507.8L411.4 511.5L407.7 507.8Z" fill="#000"/><line x1="442.3" y1="513.4" x2="442.3" y2="535.8" stroke="#111" stroke-width="1.5"/><line x1="439.1" y1="513.4" x2="445.5" y2="513.4" stroke="#111" stroke-width="1.5"/><line x1="439.1" y1="535.8" x2="445.5" y2="535.8" stroke="#111" stroke-width="1.5"/><path d="M442.3 520.7L446 524.4L442.3 528.1L438.6 524.4Z" fill="#000"/><line x1="550.5" y1="596.9" x2="550.5" y2="618.3" stroke="#111" stroke-width="1.5"/><line x1="547.3" y1="596.9" x2="553.7" y2="596.9" stroke="#111" stroke-width="1.5"/><line x1="547.3" y1="618.3" x2="553.7" y2="618.3" stroke="#111" stroke-width="1.5"/><path d="M550.5 604.1L554.2 607.8L550.5 611.5L546.8 607.8Z" fill="#000"/><line x1="631.3" y1="576.4" x2="631.3" y2="603.1" stroke="#111" stroke-width="1.5"/><line x1="628.1" y1="576.4" x2="634.5" y2="576.4" stroke="#111" stroke-width="1.5"/><line x1="628.1" y1="603.1" x2="634.5" y2="603.1" stroke="#111" stroke-width="1.5"/><path d="M631.3 585.7L635 589.4L631.3 593.1L627.6 589.4Z" fill="#000"/><text x="615.4" y="540.1" font-size="11.5" text-anchor="middle">y = -444 1x + 6918.9</text><text x="615.4" y="552.9" font-size="11.5" text-anchor="middle">R² = 0.782</text><text x="353.9" y="474" font-size="15.5" font-weight="bold">f</text><text transform="translate(359.3,549.7) rotate(-90)" x="0" y="0" font-size="13" text-anchor="middle">H<tspan font-size="9" dy="3">2</tspan><tspan dy="-3">S (ppm)</tspan></text><text x="538.45" y="669.7" font-size="13" text-anchor="middle">C/N ratio</text></g>
</svg></body></html>
